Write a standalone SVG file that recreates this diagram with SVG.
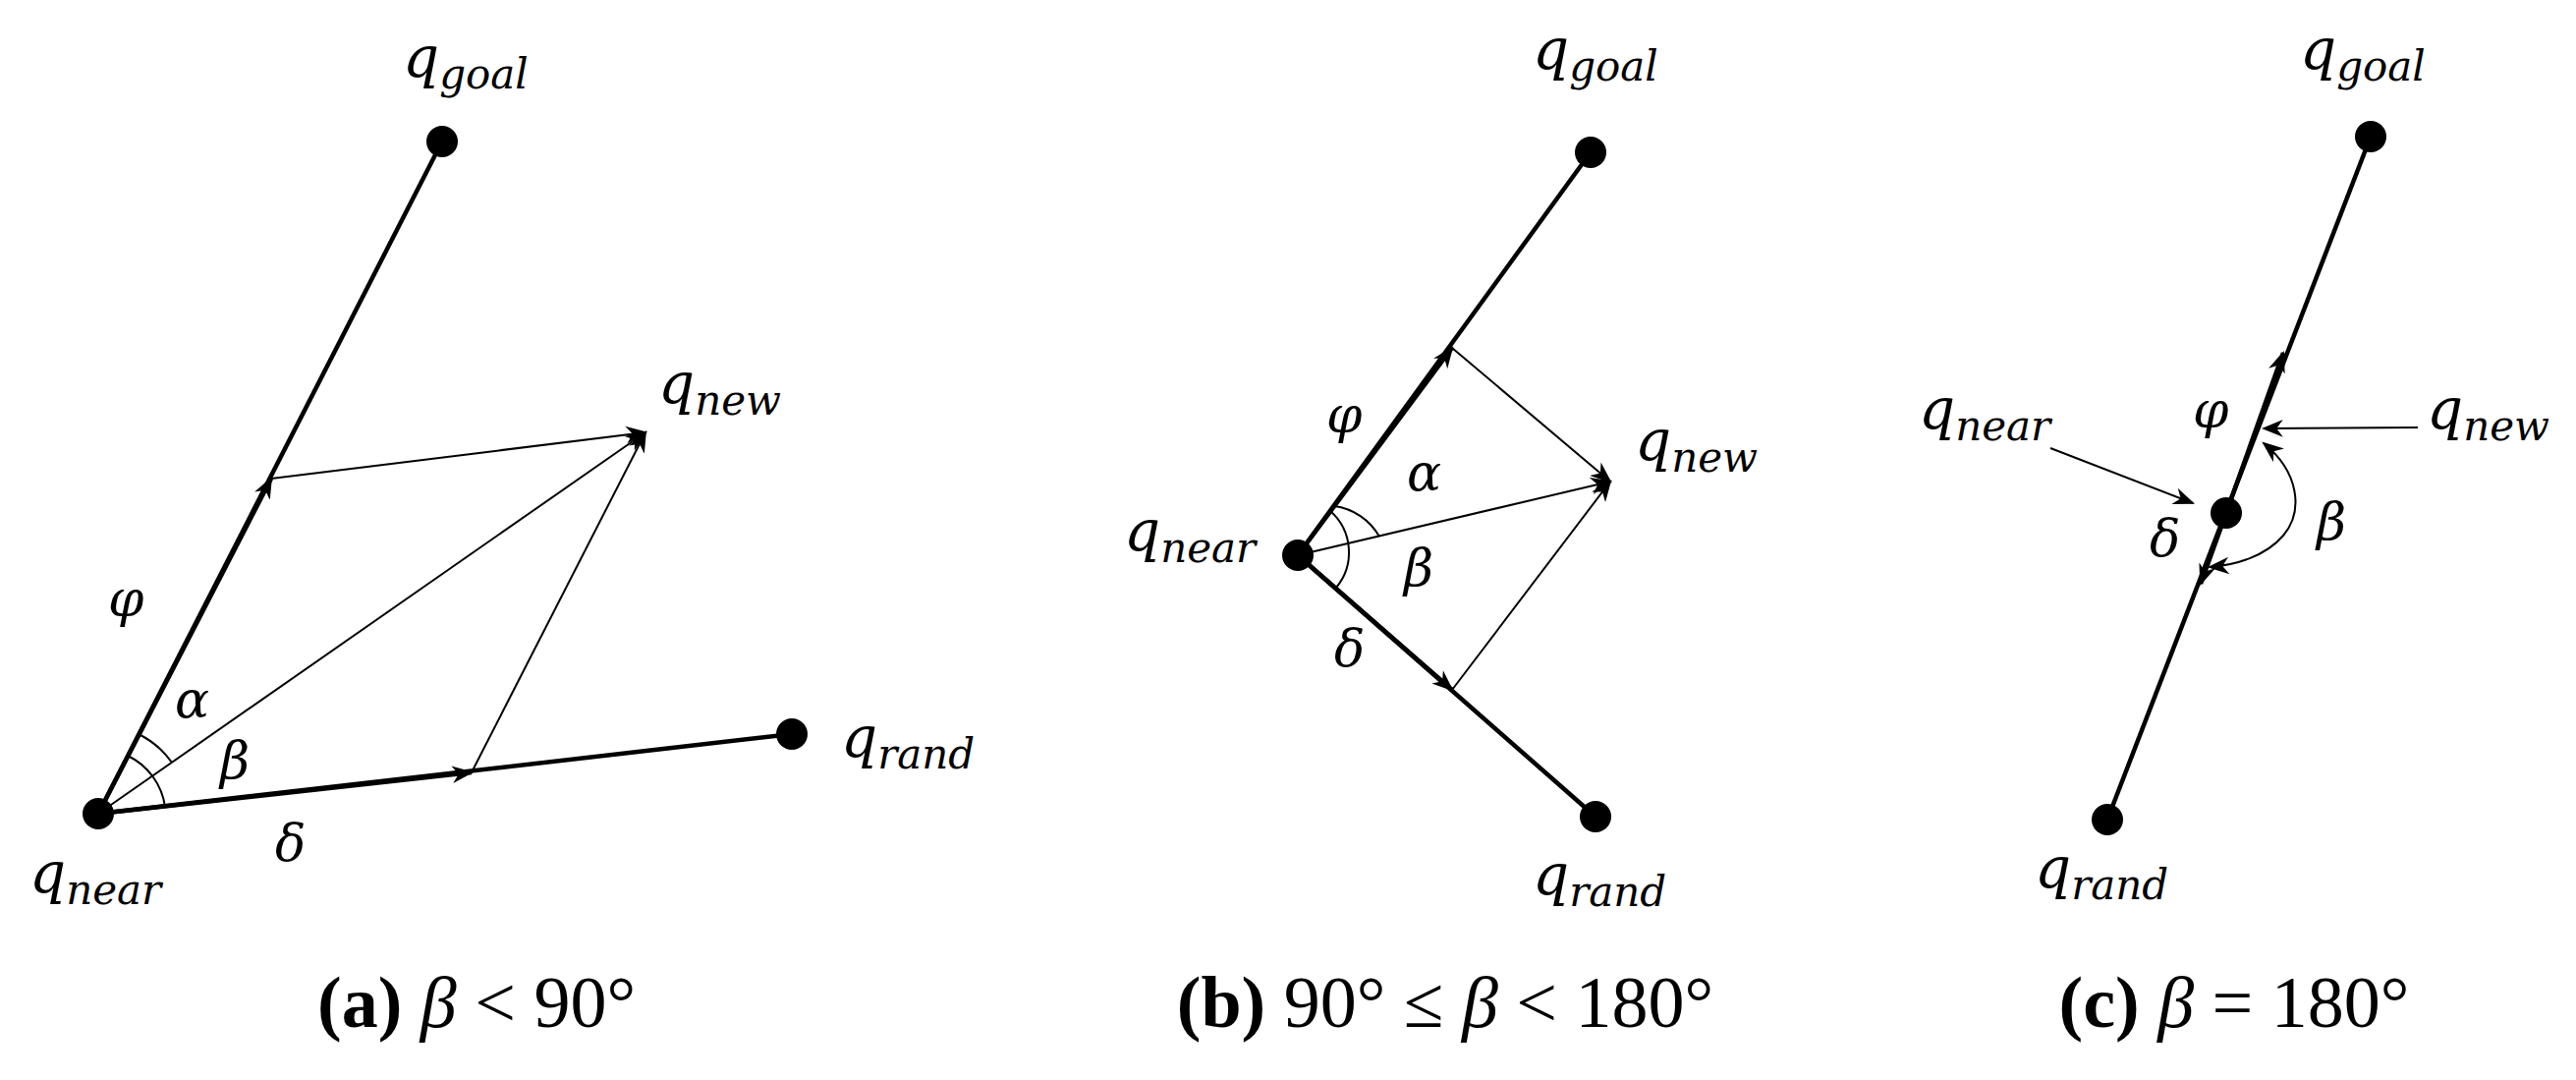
<svg xmlns="http://www.w3.org/2000/svg" width="2622" height="1099" viewBox="0 0 2622 1099">
<style>
.thick{stroke:#000;stroke-width:4.5;fill:none}
.thin{stroke:#000;stroke-width:2;fill:none}
.lbl{font-family:"DejaVu Serif","Liberation Serif",serif;font-style:italic;font-size:58px;fill:#000}
.sub{font-size:42px}
.gk{font-family:"DejaVu Serif","Liberation Serif",serif;font-style:italic;font-size:52px;fill:#000}
.cap{font-family:"Liberation Serif",serif;font-size:74px;fill:#000}
</style>
<defs>
<marker id="ahL" viewBox="0 0 10 10" refX="9" refY="5" markerWidth="22" markerHeight="22" markerUnits="userSpaceOnUse" orient="auto-start-reverse"><path d="M0,1 L10,5 L0,9 L3,5 z" fill="#000"/></marker>
</defs>
<g id="connectors">
<line class="thick" x1="100" y1="828" x2="450" y2="144"/>
<line class="thick" x1="100" y1="828" x2="806" y2="747"/>
<line class="thick" x1="100" y1="828" x2="276" y2="487" marker-end="url(#ahL)"/>
<line class="thick" x1="100" y1="828" x2="480" y2="786" marker-end="url(#ahL)"/>
<line class="thin" x1="276" y1="487" x2="657" y2="440" marker-end="url(#ahL)"/>
<line class="thin" x1="480" y1="786" x2="657" y2="440" marker-end="url(#ahL)"/>
<line class="thin" x1="100" y1="828" x2="657" y2="440" marker-end="url(#ahL)"/>
<path class="thin" d="M141,747 A91,91 0 0 1 175,776"/>
<path class="thin" d="M130,769 A68,68 0 0 1 168,821"/>
<line class="thick" x1="1321" y1="565" x2="1619" y2="155"/>
<line class="thick" x1="1321" y1="565" x2="1624" y2="831"/>
<line class="thick" x1="1321" y1="565" x2="1478" y2="354" marker-end="url(#ahL)"/>
<line class="thick" x1="1321" y1="565" x2="1478" y2="702" marker-end="url(#ahL)"/>
<line class="thin" x1="1478" y1="354" x2="1639" y2="490" marker-end="url(#ahL)"/>
<line class="thin" x1="1478" y1="702" x2="1639" y2="490" marker-end="url(#ahL)"/>
<line class="thin" x1="1321" y1="565" x2="1639" y2="490" marker-end="url(#ahL)"/>
<path class="thin" d="M1358,515 A62,62 0 0 1 1404,546"/>
<path class="thin" d="M1354,520 A56,56 0 0 1 1360,598"/>
<line class="thick" x1="2413" y1="139" x2="2145" y2="834"/>
<line class="thick" x1="2266" y1="522" x2="2324" y2="359" marker-end="url(#ahL)"/>
<line class="thick" x1="2266" y1="522" x2="2240" y2="594" marker-end="url(#ahL)"/>
<line class="thin" x1="2461" y1="435" x2="2304" y2="436" marker-end="url(#ahL)"/>
<line class="thin" x1="2087" y1="456" x2="2232" y2="512" marker-end="url(#ahL)"/>
<path class="thin" d="M2304,451 C2340,480 2345,520 2324,545 C2306,566 2276,575 2249,577" marker-start="url(#ahL)" marker-end="url(#ahL)"/>
</g>
<g id="nodes-a">
<circle cx="100" cy="828" r="16"/>
<circle cx="450" cy="144" r="16"/>
<circle cx="806" cy="747" r="16"/>
</g>
<g id="nodes-b">
<circle cx="1321" cy="565" r="16"/>
<circle cx="1619" cy="155" r="16"/>
<circle cx="1624" cy="831" r="16"/>
</g>
<g id="nodes-c">
<circle cx="2266" cy="522" r="16"/>
<circle cx="2413" cy="139" r="16"/>
<circle cx="2145" cy="834" r="16"/>
</g>
<g id="labels">
<text class="lbl" x="410" y="78">q<tspan class="sub" dy="12">goal</tspan></text>
<text class="lbl" x="670" y="410">q<tspan class="sub" dy="12">new</tspan></text>
<text class="lbl" x="856" y="770">q<tspan class="sub" dy="12">rand</tspan></text>
<text class="lbl" x="30" y="908">q<tspan class="sub" dy="12">near</tspan></text>
<text class="gk" x="110" y="627">φ</text>
<text class="gk" x="178" y="730">α</text>
<text class="gk" x="224" y="792">β</text>
<text class="gk" x="280" y="876">δ</text>
<text class="cap" x="485" y="1045" text-anchor="middle"><tspan font-weight="bold">(a)</tspan> <tspan font-style="italic">β</tspan> &lt; 90°</text>
<text class="lbl" x="1560" y="70">q<tspan class="sub" dy="12">goal</tspan></text>
<text class="lbl" x="1664" y="468">q<tspan class="sub" dy="12">new</tspan></text>
<text class="lbl" x="1144" y="560">q<tspan class="sub" dy="12">near</tspan></text>
<text class="lbl" x="1560" y="910">q<tspan class="sub" dy="12">rand</tspan></text>
<text class="gk" x="1350" y="440">φ</text>
<text class="gk" x="1432" y="499">α</text>
<text class="gk" x="1429" y="596">β</text>
<text class="gk" x="1358" y="678">δ</text>
<text class="cap" x="1471" y="1045" text-anchor="middle"><tspan font-weight="bold">(b)</tspan> 90° ≤ <tspan font-style="italic">β</tspan> &lt; 180°</text>
<text class="lbl" x="2341" y="70">q<tspan class="sub" dy="12">goal</tspan></text>
<text class="lbl" x="2470" y="436">q<tspan class="sub" dy="12">new</tspan></text>
<text class="lbl" x="1953" y="436">q<tspan class="sub" dy="12">near</tspan></text>
<text class="lbl" x="2071" y="903">q<tspan class="sub" dy="12">rand</tspan></text>
<text class="gk" x="2232" y="435">φ</text>
<text class="gk" x="2188" y="566">δ</text>
<text class="gk" x="2358" y="549">β</text>
<text class="cap" x="2274" y="1045" text-anchor="middle"><tspan font-weight="bold">(c)</tspan> <tspan font-style="italic">β</tspan> = 180°</text>
</g>
</svg>
